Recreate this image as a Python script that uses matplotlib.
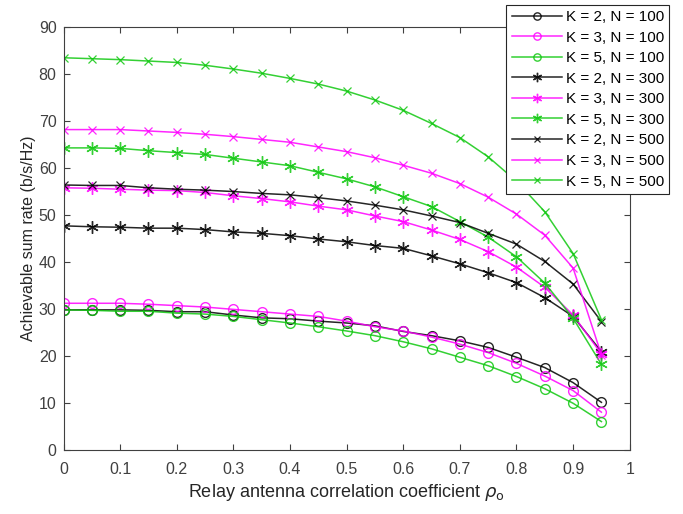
import numpy as np
import matplotlib
matplotlib.use("Agg")
import matplotlib.pyplot as plt

plt.rcParams['font.family'] = ['Liberation Sans', 'DejaVu Sans']

# correlation coefficient values
rho = [0.0, 0.05, 0.1, 0.15, 0.2, 0.25, 0.3, 0.35, 0.4, 0.45,
       0.5, 0.55, 0.6, 0.65, 0.7, 0.75, 0.8, 0.85, 0.9, 0.95]

# N = 100
k2_n100 = [29.8, 29.8, 29.8, 29.7, 29.4, 29.4, 28.7, 28.1, 27.9, 27.4,
           27.0, 26.4, 25.2, 24.3, 23.2, 21.8, 19.7, 17.5, 14.3, 10.1]
k3_n100 = [31.2, 31.2, 31.2, 31.0, 30.7, 30.4, 29.9, 29.4, 28.9, 28.4,
           27.4, 26.2, 25.3, 24.0, 22.5, 20.7, 18.4, 15.7, 12.6, 8.0]
k5_n100 = [29.8, 29.7, 29.5, 29.5, 29.1, 28.9, 28.4, 27.7, 27.0, 26.2,
           25.3, 24.3, 23.0, 21.5, 19.7, 17.9, 15.6, 13.0, 9.9, 6.0]
# N = 300
k2_n300 = [47.7, 47.5, 47.4, 47.2, 47.2, 46.9, 46.4, 46.1, 45.6, 44.9,
           44.3, 43.5, 42.9, 41.3, 39.6, 37.7, 35.6, 32.4, 28.4, 20.9]
k3_n300 = [55.8, 55.7, 55.5, 55.3, 55.2, 54.8, 54.1, 53.5, 52.8, 51.9,
           51.1, 49.8, 48.6, 46.8, 44.8, 42.2, 38.9, 34.6, 28.7, 20.4]
k5_n300 = [64.3, 64.3, 64.2, 63.7, 63.3, 62.9, 62.1, 61.3, 60.5, 59.1,
           57.7, 56.0, 53.9, 51.8, 48.6, 45.3, 41.1, 35.5, 28.0, 18.2]
# N = 500
k2_n500 = [56.4, 56.3, 56.3, 55.8, 55.5, 55.3, 55.0, 54.6, 54.3, 53.7,
           53.0, 52.1, 51.1, 49.8, 48.4, 46.1, 43.8, 40.1, 35.3, 27.3]
k3_n500 = [68.2, 68.2, 68.2, 67.9, 67.6, 67.2, 66.7, 66.1, 65.5, 64.5,
           63.5, 62.2, 60.6, 58.9, 56.7, 53.8, 50.2, 45.7, 38.7, 20.2]
k5_n500 = [83.5, 83.3, 83.1, 82.8, 82.5, 81.9, 81.1, 80.2, 79.1, 77.9,
           76.4, 74.5, 72.3, 69.5, 66.5, 62.4, 57.2, 50.7, 41.8, 27.7]

black = '#000000'
magenta = '#ff00ff'
green = '#10c810'

series = [
    (k2_n100, black, 'o', 'K = 2, N = 100'),
    (k3_n100, magenta, 'o', 'K = 3, N = 100'),
    (k5_n100, green, 'o', 'K = 5, N = 100'),
    (k2_n300, black, '*', 'K = 2, N = 300'),
    (k3_n300, magenta, '*', 'K = 3, N = 300'),
    (k5_n300, green, '*', 'K = 5, N = 300'),
    (k2_n500, black, 'x', 'K = 2, N = 500'),
    (k3_n500, magenta, 'x', 'K = 3, N = 500'),
    (k5_n500, green, 'x', 'K = 5, N = 500'),
]

fig = plt.figure(figsize=(6.83, 5.14), dpi=100)
ax = fig.add_axes([0.093, 0.125, 0.829, 0.822])

for vals, c, m, lab in series:
    if m == 'o':
        ax.plot(rho, vals, color=c, marker='o', markersize=7, markerfacecolor='none',
                markeredgewidth=1.0, linewidth=1.1, label=lab, alpha=0.85)
    elif m == '*':
        ax.plot(rho, vals, color=c, marker=(6, 2, 0), markersize=9, markeredgewidth=1.0,
                linewidth=1.1, label=lab, alpha=0.85)
    else:
        ax.plot(rho, vals, color=c, marker='x', markersize=5.5, markeredgewidth=0.9,
                linewidth=1.1, label=lab, alpha=0.85)

ax.set_xlim(0, 1)
ax.set_ylim(0, 90)
ax.set_xticks(np.arange(0, 1.01, 0.1))
ax.set_xticklabels(['0', '0.1', '0.2', '0.3', '0.4', '0.5', '0.6', '0.7', '0.8', '0.9', '1'])
ax.set_yticks(np.arange(0, 91, 10))
ax.tick_params(direction='in', length=4, colors='#404040', labelsize=11.5, top=True, right=True,
               labeltop=False, labelright=False, pad=5)
ax.tick_params(axis='x', pad=8.5)
for s in ax.spines.values():
    s.set_color('#404040')
    s.set_linewidth(0.8)

ax.set_xlabel(r'Relay antenna correlation coefficient $\rho_{\rm o}$', fontsize=13, color='#262626')
ax.set_ylabel('Achievable sum rate (b/s/Hz)', fontsize=11.5, color='#262626', labelpad=2)

leg = ax.legend(loc='upper right', bbox_to_anchor=(0.98, 0.991), bbox_transform=fig.transFigure,
                borderaxespad=0, fancybox=False, framealpha=1, edgecolor='#262626',
                fontsize=11, labelspacing=0.43, handlelength=3.3, handletextpad=0.25,
                borderpad=0.35)
leg.get_frame().set_linewidth(0.8)
for h in leg.legend_handles:
    h.set_markersize(h.get_markersize() * 0.75)

fig.savefig('out.png', dpi=100)
